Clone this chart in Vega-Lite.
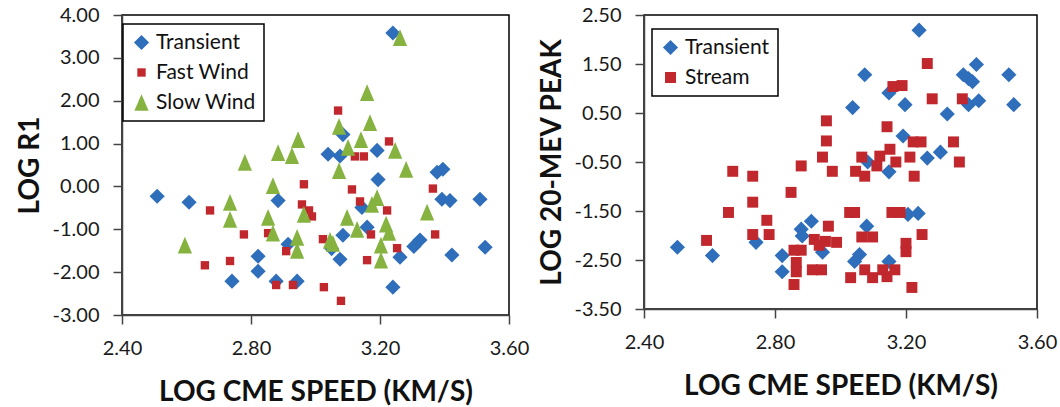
{
  "$schema": "https://vega.github.io/schema/vega-lite/v6.json",
  "background": "white",
  "padding": {"left": 15, "top": 4, "right": 0, "bottom": 0},
  "spacing": 7,
  "config": {
    "view": {"stroke": "black", "strokeWidth": 1.5},
    "axis": {
      "grid": false,
      "domainColor": "#444444",
      "domainWidth": 1.5,
      "tickColor": "#444444",
      "tickWidth": 1.5,
      "tickSize": 9,
      "labelFont": "Lato",
      "labelFontSize": 20,
      "labelColor": "#1a1a1a",
      "labelPadding": 14,
      "titleFont": "Lato",
      "titleFontSize": 28,
      "titleFontWeight": "bold",
      "titleColor": "#111111"
    },
    "axisX": {"titlePadding": 20, "labelFlush": false},
    "axisY": {"titlePadding": 8},
    "legend": {
      "labelFont": "Lato",
      "labelFontSize": 21,
      "labelColor": "#111111",
      "strokeWidth": 1.5
    }
  },
  "resolve": {"scale": {"color": "independent", "shape": "independent", "size": "independent"}, "legend": {"color": "independent", "shape": "independent", "size": "independent"}},
  "hconcat": [
    {
      "width": 387,
      "height": 300,
      "data": {"values": [
        {"series": "Transient", "speed": 2.509, "r1": -0.23},
        {"series": "Transient", "speed": 2.608, "r1": -0.37},
        {"series": "Transient", "speed": 2.741, "r1": -2.21},
        {"series": "Transient", "speed": 2.822, "r1": -1.63},
        {"series": "Transient", "speed": 2.822, "r1": -1.98},
        {"series": "Transient", "speed": 2.884, "r1": -0.33},
        {"series": "Transient", "speed": 2.878, "r1": -2.21},
        {"series": "Transient", "speed": 2.915, "r1": -1.35},
        {"series": "Transient", "speed": 2.943, "r1": -2.21},
        {"series": "Transient", "speed": 3.039, "r1": 0.75},
        {"series": "Transient", "speed": 3.076, "r1": 0.71},
        {"series": "Transient", "speed": 3.085, "r1": 1.21},
        {"series": "Transient", "speed": 3.085, "r1": -1.14},
        {"series": "Transient", "speed": 3.05, "r1": -1.45},
        {"series": "Transient", "speed": 3.076, "r1": -1.7},
        {"series": "Transient", "speed": 3.144, "r1": -0.49},
        {"series": "Transient", "speed": 3.16, "r1": -0.95},
        {"series": "Transient", "speed": 3.191, "r1": 0.84},
        {"series": "Transient", "speed": 3.194, "r1": 0.16},
        {"series": "Transient", "speed": 3.24, "r1": 3.58},
        {"series": "Transient", "speed": 3.262, "r1": -1.65},
        {"series": "Transient", "speed": 3.24, "r1": -2.35},
        {"series": "Transient", "speed": 3.305, "r1": -1.4},
        {"series": "Transient", "speed": 3.324, "r1": -1.25},
        {"series": "Transient", "speed": 3.377, "r1": 0.33},
        {"series": "Transient", "speed": 3.395, "r1": 0.4},
        {"series": "Transient", "speed": 3.392, "r1": -0.3},
        {"series": "Transient", "speed": 3.417, "r1": -0.33},
        {"series": "Transient", "speed": 3.423, "r1": -1.6},
        {"series": "Transient", "speed": 3.51, "r1": -0.3},
        {"series": "Transient", "speed": 3.526, "r1": -1.42},
        {"series": "Fast Wind", "speed": 2.673, "r1": -0.56},
        {"series": "Fast Wind", "speed": 2.657, "r1": -1.84},
        {"series": "Fast Wind", "speed": 2.735, "r1": -1.74},
        {"series": "Fast Wind", "speed": 2.778, "r1": -1.12},
        {"series": "Fast Wind", "speed": 2.853, "r1": -1.09},
        {"series": "Fast Wind", "speed": 2.878, "r1": -2.3},
        {"series": "Fast Wind", "speed": 2.909, "r1": -1.51},
        {"series": "Fast Wind", "speed": 2.93, "r1": -2.3},
        {"series": "Fast Wind", "speed": 2.964, "r1": 0.05},
        {"series": "Fast Wind", "speed": 2.958, "r1": -0.42},
        {"series": "Fast Wind", "speed": 2.98, "r1": -0.56},
        {"series": "Fast Wind", "speed": 2.989, "r1": -0.7},
        {"series": "Fast Wind", "speed": 3.023, "r1": -1.23},
        {"series": "Fast Wind", "speed": 3.026, "r1": -2.35},
        {"series": "Fast Wind", "speed": 3.07, "r1": 1.77},
        {"series": "Fast Wind", "speed": 3.079, "r1": -2.67},
        {"series": "Fast Wind", "speed": 3.113, "r1": -0.07},
        {"series": "Fast Wind", "speed": 3.122, "r1": 0.7},
        {"series": "Fast Wind", "speed": 3.15, "r1": 0.7},
        {"series": "Fast Wind", "speed": 3.138, "r1": -0.35},
        {"series": "Fast Wind", "speed": 3.172, "r1": -1.12},
        {"series": "Fast Wind", "speed": 3.16, "r1": -1.72},
        {"series": "Fast Wind", "speed": 3.228, "r1": 1.05},
        {"series": "Fast Wind", "speed": 3.222, "r1": -0.56},
        {"series": "Fast Wind", "speed": 3.253, "r1": -1.44},
        {"series": "Fast Wind", "speed": 3.364, "r1": -0.05},
        {"series": "Fast Wind", "speed": 3.371, "r1": -1.12},
        {"series": "Slow Wind", "speed": 2.595, "r1": -1.37},
        {"series": "Slow Wind", "speed": 2.735, "r1": -0.37},
        {"series": "Slow Wind", "speed": 2.735, "r1": -0.77},
        {"series": "Slow Wind", "speed": 2.781, "r1": 0.56},
        {"series": "Slow Wind", "speed": 2.853, "r1": -0.72},
        {"series": "Slow Wind", "speed": 2.868, "r1": 0.02},
        {"series": "Slow Wind", "speed": 2.868, "r1": -1.09},
        {"series": "Slow Wind", "speed": 2.884, "r1": 0.79},
        {"series": "Slow Wind", "speed": 2.927, "r1": 0.72},
        {"series": "Slow Wind", "speed": 2.946, "r1": 1.09},
        {"series": "Slow Wind", "speed": 2.943, "r1": -1.19},
        {"series": "Slow Wind", "speed": 2.943, "r1": -1.49},
        {"series": "Slow Wind", "speed": 2.964, "r1": -0.65},
        {"series": "Slow Wind", "speed": 3.045, "r1": -1.26},
        {"series": "Slow Wind", "speed": 3.054, "r1": -1.33},
        {"series": "Slow Wind", "speed": 3.073, "r1": 1.4},
        {"series": "Slow Wind", "speed": 3.073, "r1": 0.37},
        {"series": "Slow Wind", "speed": 3.101, "r1": 0.91},
        {"series": "Slow Wind", "speed": 3.098, "r1": -0.72},
        {"series": "Slow Wind", "speed": 3.129, "r1": -1.0},
        {"series": "Slow Wind", "speed": 3.141, "r1": 1.09},
        {"series": "Slow Wind", "speed": 3.16, "r1": 2.19},
        {"series": "Slow Wind", "speed": 3.169, "r1": 1.49},
        {"series": "Slow Wind", "speed": 3.175, "r1": -0.42},
        {"series": "Slow Wind", "speed": 3.191, "r1": -0.26},
        {"series": "Slow Wind", "speed": 3.203, "r1": -1.37},
        {"series": "Slow Wind", "speed": 3.203, "r1": -1.72},
        {"series": "Slow Wind", "speed": 3.219, "r1": -0.88},
        {"series": "Slow Wind", "speed": 3.228, "r1": -1.07},
        {"series": "Slow Wind", "speed": 3.247, "r1": 0.84},
        {"series": "Slow Wind", "speed": 3.262, "r1": 3.47},
        {"series": "Slow Wind", "speed": 3.281, "r1": 0.4},
        {"series": "Slow Wind", "speed": 3.346, "r1": -0.6}
      ]},
      "mark": {"type": "point", "filled": true, "opacity": 1, "strokeWidth": 0},
      "encoding": {
        "x": {"field": "speed", "type": "quantitative",
          "scale": {"domain": [2.4, 3.6], "nice": false, "zero": false},
          "axis": {"values": [2.4, 2.8, 3.2, 3.6], "format": ".2f", "title": "LOG CME SPEED (KM/S)"}},
        "y": {"field": "r1", "type": "quantitative",
          "scale": {"domain": [-3, 4], "nice": false, "zero": false},
          "axis": {"values": [-3, -2, -1, 0, 1, 2, 3, 4], "labelExpr": "(datum.value < 0 ? '-' : '') + format(abs(datum.value), '.2f')", "title": "LOG R1"}},
        "color": {"field": "series", "type": "nominal",
          "scale": {"domain": ["Transient", "Fast Wind", "Slow Wind"], "range": ["#2f6eba", "#c0282d", "#86b340"]},
          "legend": {"title": null, "orient": "none", "legendX": 1, "legendY": 9, "strokeColor": "black", "fillColor": "white", "padding": 8, "rowPadding": 8, "labelOffset": 4}},
        "shape": {"field": "series", "type": "nominal",
          "scale": {"domain": ["Transient", "Fast Wind", "Slow Wind"], "range": ["diamond", "square", "M0,-1L0.85,1L-0.85,1Z"]},
          "legend": {"title": null, "orient": "none", "legendX": 1, "legendY": 9, "strokeColor": "black", "fillColor": "white", "padding": 8, "rowPadding": 8, "labelOffset": 4}},
        "size": {"field": "series", "type": "nominal",
          "scale": {"type": "ordinal", "domain": ["Transient", "Fast Wind", "Slow Wind"], "range": [230, 70, 280]},
          "legend": {"title": null, "orient": "none", "legendX": 1, "legendY": 9, "strokeColor": "black", "fillColor": "white", "padding": 8, "rowPadding": 8, "labelOffset": 4}}
      }
    },
    {
      "width": 393,
      "height": 294,
      "data": {"values": [
        {"series": "Transient", "speed": 2.502, "peak": -2.24},
        {"series": "Transient", "speed": 2.609, "peak": -2.41},
        {"series": "Transient", "speed": 2.742, "peak": -2.14},
        {"series": "Transient", "speed": 2.822, "peak": -2.41},
        {"series": "Transient", "speed": 2.822, "peak": -2.74},
        {"series": "Transient", "speed": 2.88, "peak": -1.87},
        {"series": "Transient", "speed": 2.883, "peak": -2.01},
        {"series": "Transient", "speed": 2.911, "peak": -1.71},
        {"series": "Transient", "speed": 2.945, "peak": -2.34},
        {"series": "Transient", "speed": 3.037, "peak": 0.61},
        {"series": "Transient", "speed": 3.074, "peak": 1.28},
        {"series": "Transient", "speed": 3.083, "peak": -0.5},
        {"series": "Transient", "speed": 3.08, "peak": -1.81},
        {"series": "Transient", "speed": 3.043, "peak": -2.53},
        {"series": "Transient", "speed": 3.058, "peak": -2.39},
        {"series": "Transient", "speed": 3.148, "peak": 0.91},
        {"series": "Transient", "speed": 3.148, "peak": -0.7},
        {"series": "Transient", "speed": 3.148, "peak": -2.53},
        {"series": "Transient", "speed": 3.191, "peak": 0.03},
        {"series": "Transient", "speed": 3.197, "peak": 0.67},
        {"series": "Transient", "speed": 3.24, "peak": 2.19},
        {"series": "Transient", "speed": 3.206, "peak": -1.57},
        {"series": "Transient", "speed": 3.237, "peak": -1.55},
        {"series": "Transient", "speed": 3.265, "peak": -0.42},
        {"series": "Transient", "speed": 3.305, "peak": -0.3},
        {"series": "Transient", "speed": 3.326, "peak": 0.48},
        {"series": "Transient", "speed": 3.375, "peak": 1.28},
        {"series": "Transient", "speed": 3.391, "peak": 1.2},
        {"series": "Transient", "speed": 3.403, "peak": 1.14},
        {"series": "Transient", "speed": 3.391, "peak": 0.67},
        {"series": "Transient", "speed": 3.415, "peak": 1.49},
        {"series": "Transient", "speed": 3.422, "peak": 0.75},
        {"series": "Transient", "speed": 3.514, "peak": 1.28},
        {"series": "Transient", "speed": 3.529, "peak": 0.67},
        {"series": "Stream", "speed": 2.591, "peak": -2.1},
        {"series": "Stream", "speed": 2.658, "peak": -1.53},
        {"series": "Stream", "speed": 2.671, "peak": -0.69},
        {"series": "Stream", "speed": 2.732, "peak": -0.79},
        {"series": "Stream", "speed": 2.732, "peak": -1.32},
        {"series": "Stream", "speed": 2.732, "peak": -1.98},
        {"series": "Stream", "speed": 2.775, "peak": -1.69},
        {"series": "Stream", "speed": 2.782, "peak": -1.98},
        {"series": "Stream", "speed": 2.849, "peak": -1.12},
        {"series": "Stream", "speed": 2.858, "peak": -2.3},
        {"series": "Stream", "speed": 2.88, "peak": -2.3},
        {"series": "Stream", "speed": 2.865, "peak": -2.55},
        {"series": "Stream", "speed": 2.865, "peak": -2.74},
        {"series": "Stream", "speed": 2.858, "peak": -3.0},
        {"series": "Stream", "speed": 2.88, "peak": -0.58},
        {"series": "Stream", "speed": 2.92, "peak": -2.08},
        {"series": "Stream", "speed": 2.935, "peak": -2.2},
        {"series": "Stream", "speed": 2.954, "peak": -2.12},
        {"series": "Stream", "speed": 2.914, "peak": -2.7},
        {"series": "Stream", "speed": 2.942, "peak": -2.7},
        {"series": "Stream", "speed": 2.957, "peak": 0.34},
        {"series": "Stream", "speed": 2.957, "peak": -0.07},
        {"series": "Stream", "speed": 2.945, "peak": -0.4},
        {"series": "Stream", "speed": 2.975, "peak": -0.69},
        {"series": "Stream", "speed": 2.963, "peak": -1.81},
        {"series": "Stream", "speed": 2.988, "peak": -2.14},
        {"series": "Stream", "speed": 3.028, "peak": -1.53},
        {"series": "Stream", "speed": 3.043, "peak": -1.53},
        {"series": "Stream", "speed": 3.031, "peak": -2.86},
        {"series": "Stream", "speed": 3.046, "peak": -0.69},
        {"series": "Stream", "speed": 3.065, "peak": -0.4},
        {"series": "Stream", "speed": 3.074, "peak": -0.79},
        {"series": "Stream", "speed": 3.065, "peak": -2.03},
        {"series": "Stream", "speed": 3.098, "peak": -2.03},
        {"series": "Stream", "speed": 3.074, "peak": -2.7},
        {"series": "Stream", "speed": 3.098, "peak": -2.86},
        {"series": "Stream", "speed": 3.111, "peak": -0.58},
        {"series": "Stream", "speed": 3.12, "peak": -0.38},
        {"series": "Stream", "speed": 3.142, "peak": 0.22},
        {"series": "Stream", "speed": 3.151, "peak": -0.24},
        {"series": "Stream", "speed": 3.169, "peak": -0.5},
        {"series": "Stream", "speed": 3.129, "peak": -2.7},
        {"series": "Stream", "speed": 3.142, "peak": -2.84},
        {"series": "Stream", "speed": 3.166, "peak": -2.7},
        {"series": "Stream", "speed": 3.16, "peak": 1.04},
        {"series": "Stream", "speed": 3.188, "peak": 1.06},
        {"series": "Stream", "speed": 3.157, "peak": -1.53},
        {"series": "Stream", "speed": 3.182, "peak": -1.53},
        {"series": "Stream", "speed": 3.2, "peak": -2.16},
        {"series": "Stream", "speed": 3.2, "peak": -2.33},
        {"series": "Stream", "speed": 3.212, "peak": -0.4},
        {"series": "Stream", "speed": 3.225, "peak": -0.79},
        {"series": "Stream", "speed": 3.222, "peak": -0.09},
        {"series": "Stream", "speed": 3.246, "peak": -0.09},
        {"series": "Stream", "speed": 3.249, "peak": -1.98},
        {"series": "Stream", "speed": 3.218, "peak": -3.06},
        {"series": "Stream", "speed": 3.265, "peak": 1.51},
        {"series": "Stream", "speed": 3.28, "peak": 0.79},
        {"series": "Stream", "speed": 3.345, "peak": -0.09},
        {"series": "Stream", "speed": 3.363, "peak": -0.5},
        {"series": "Stream", "speed": 3.372, "peak": 0.79}
      ]},
      "mark": {"type": "point", "filled": true, "opacity": 1, "strokeWidth": 0},
      "encoding": {
        "x": {"field": "speed", "type": "quantitative",
          "scale": {"domain": [2.4, 3.6], "nice": false, "zero": false},
          "axis": {"values": [2.4, 2.8, 3.2, 3.6], "format": ".2f", "title": "LOG CME SPEED (KM/S)"}},
        "y": {"field": "peak", "type": "quantitative",
          "scale": {"domain": [-3.5, 2.5], "nice": false, "zero": false},
          "axis": {"values": [-3.5, -2.5, -1.5, -0.5, 0.5, 1.5, 2.5], "labelExpr": "(datum.value < 0 ? '-' : '') + format(abs(datum.value), '.2f')", "title": "LOG 20-MEV PEAK"}},
        "color": {"field": "series", "type": "nominal",
          "scale": {"domain": ["Transient", "Stream"], "range": ["#2f6eba", "#c0282d"]},
          "legend": {"title": null, "orient": "none", "legendX": 8, "legendY": 14, "strokeColor": "black", "fillColor": "white", "padding": 8, "rowPadding": 8, "labelOffset": 4}},
        "shape": {"field": "series", "type": "nominal",
          "scale": {"domain": ["Transient", "Stream"], "range": ["diamond", "square"]},
          "legend": {"title": null, "orient": "none", "legendX": 8, "legendY": 14, "strokeColor": "black", "fillColor": "white", "padding": 8, "rowPadding": 8, "labelOffset": 4}},
        "size": {"field": "series", "type": "nominal",
          "scale": {"type": "ordinal", "domain": ["Transient", "Stream"], "range": [230, 120]},
          "legend": {"title": null, "orient": "none", "legendX": 8, "legendY": 14, "strokeColor": "black", "fillColor": "white", "padding": 8, "rowPadding": 8, "labelOffset": 4}}
      }
    }
  ]
}
